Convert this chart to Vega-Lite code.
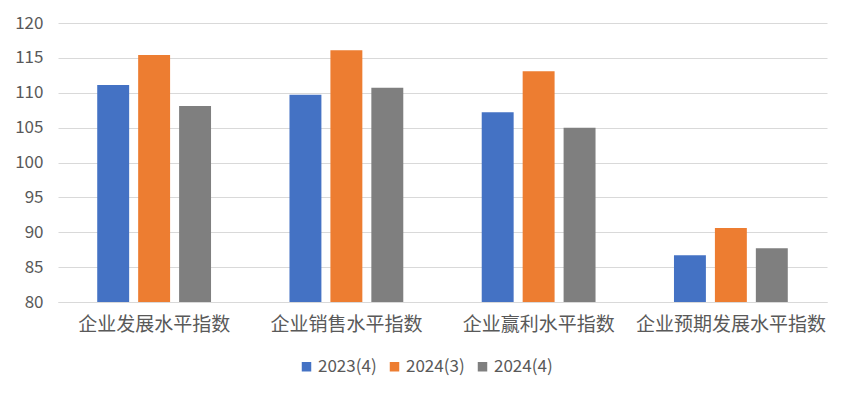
{
  "$schema": "https://vega.github.io/schema/vega-lite/v6.json",
  "width": 769,
  "height": 279,
  "autosize": {"type": "none"},
  "padding": {"left": 58, "top": 23, "right": 23, "bottom": 94},
  "background": "white",
  "config": {
    "view": {"stroke": null},
    "font": "Noto Sans CJK SC",
    "axis": {"labelFont": "Noto Sans CJK SC", "labelColor": "#595959"},
    "legend": {"labelFont": "Noto Sans CJK SC", "labelColor": "#595959"}
  },
  "data": {
    "values": [
      {"category": "企业发展水平指数", "series": "2023(4)", "value": 111.1},
      {"category": "企业发展水平指数", "series": "2024(3)", "value": 115.4},
      {"category": "企业发展水平指数", "series": "2024(4)", "value": 108.1},
      {"category": "企业销售水平指数", "series": "2023(4)", "value": 109.7},
      {"category": "企业销售水平指数", "series": "2024(3)", "value": 116.1},
      {"category": "企业销售水平指数", "series": "2024(4)", "value": 110.7},
      {"category": "企业赢利水平指数", "series": "2023(4)", "value": 107.2},
      {"category": "企业赢利水平指数", "series": "2024(3)", "value": 113.1},
      {"category": "企业赢利水平指数", "series": "2024(4)", "value": 105.0},
      {"category": "企业预期发展水平指数", "series": "2023(4)", "value": 86.7},
      {"category": "企业预期发展水平指数", "series": "2024(3)", "value": 90.6},
      {"category": "企业预期发展水平指数", "series": "2024(4)", "value": 87.7}
    ]
  },
  "mark": {"type": "bar"},
  "encoding": {
    "x": {
      "field": "category",
      "type": "nominal",
      "sort": null,
      "scale": {"paddingInner": 0.408, "paddingOuter": 0.204},
      "axis": {
        "title": null,
        "labelAngle": 0,
        "labelFontSize": 19,
        "labelPadding": 13,
        "labelLimit": 0,
        "labelOverlap": false,
        "ticks": false,
        "domainColor": "#d9d9d9",
        "domainWidth": 1,
        "grid": false
      }
    },
    "xOffset": {
      "field": "series",
      "type": "nominal",
      "scale": {"paddingInner": 0.22, "paddingOuter": 0}
    },
    "y": {
      "field": "value",
      "type": "quantitative",
      "scale": {"domain": [80, 120], "zero": false, "nice": false},
      "axis": {
        "title": null,
        "values": [80, 85, 90, 95, 100, 105, 110, 115, 120],
        "labelFontSize": 17,
        "labelPadding": 15,
        "ticks": false,
        "domain": false,
        "gridColor": "#d9d9d9",
        "gridWidth": 1
      }
    },
    "y2": {"datum": 80},
    "color": {
      "field": "series",
      "type": "nominal",
      "scale": {"domain": ["2023(4)", "2024(3)", "2024(4)"], "range": ["#4472C4", "#ED7D31", "#7F7F7F"]},
      "legend": {
        "title": null,
        "orient": "none",
        "legendX": 240,
        "legendY": 335,
        "direction": "horizontal",
        "symbolType": "square",
        "symbolSize": 90,
        "symbolStrokeWidth": 0,
        "labelFontSize": 17,
        "labelOffset": 3,
        "columnPadding": 9
      }
    }
  }
}
